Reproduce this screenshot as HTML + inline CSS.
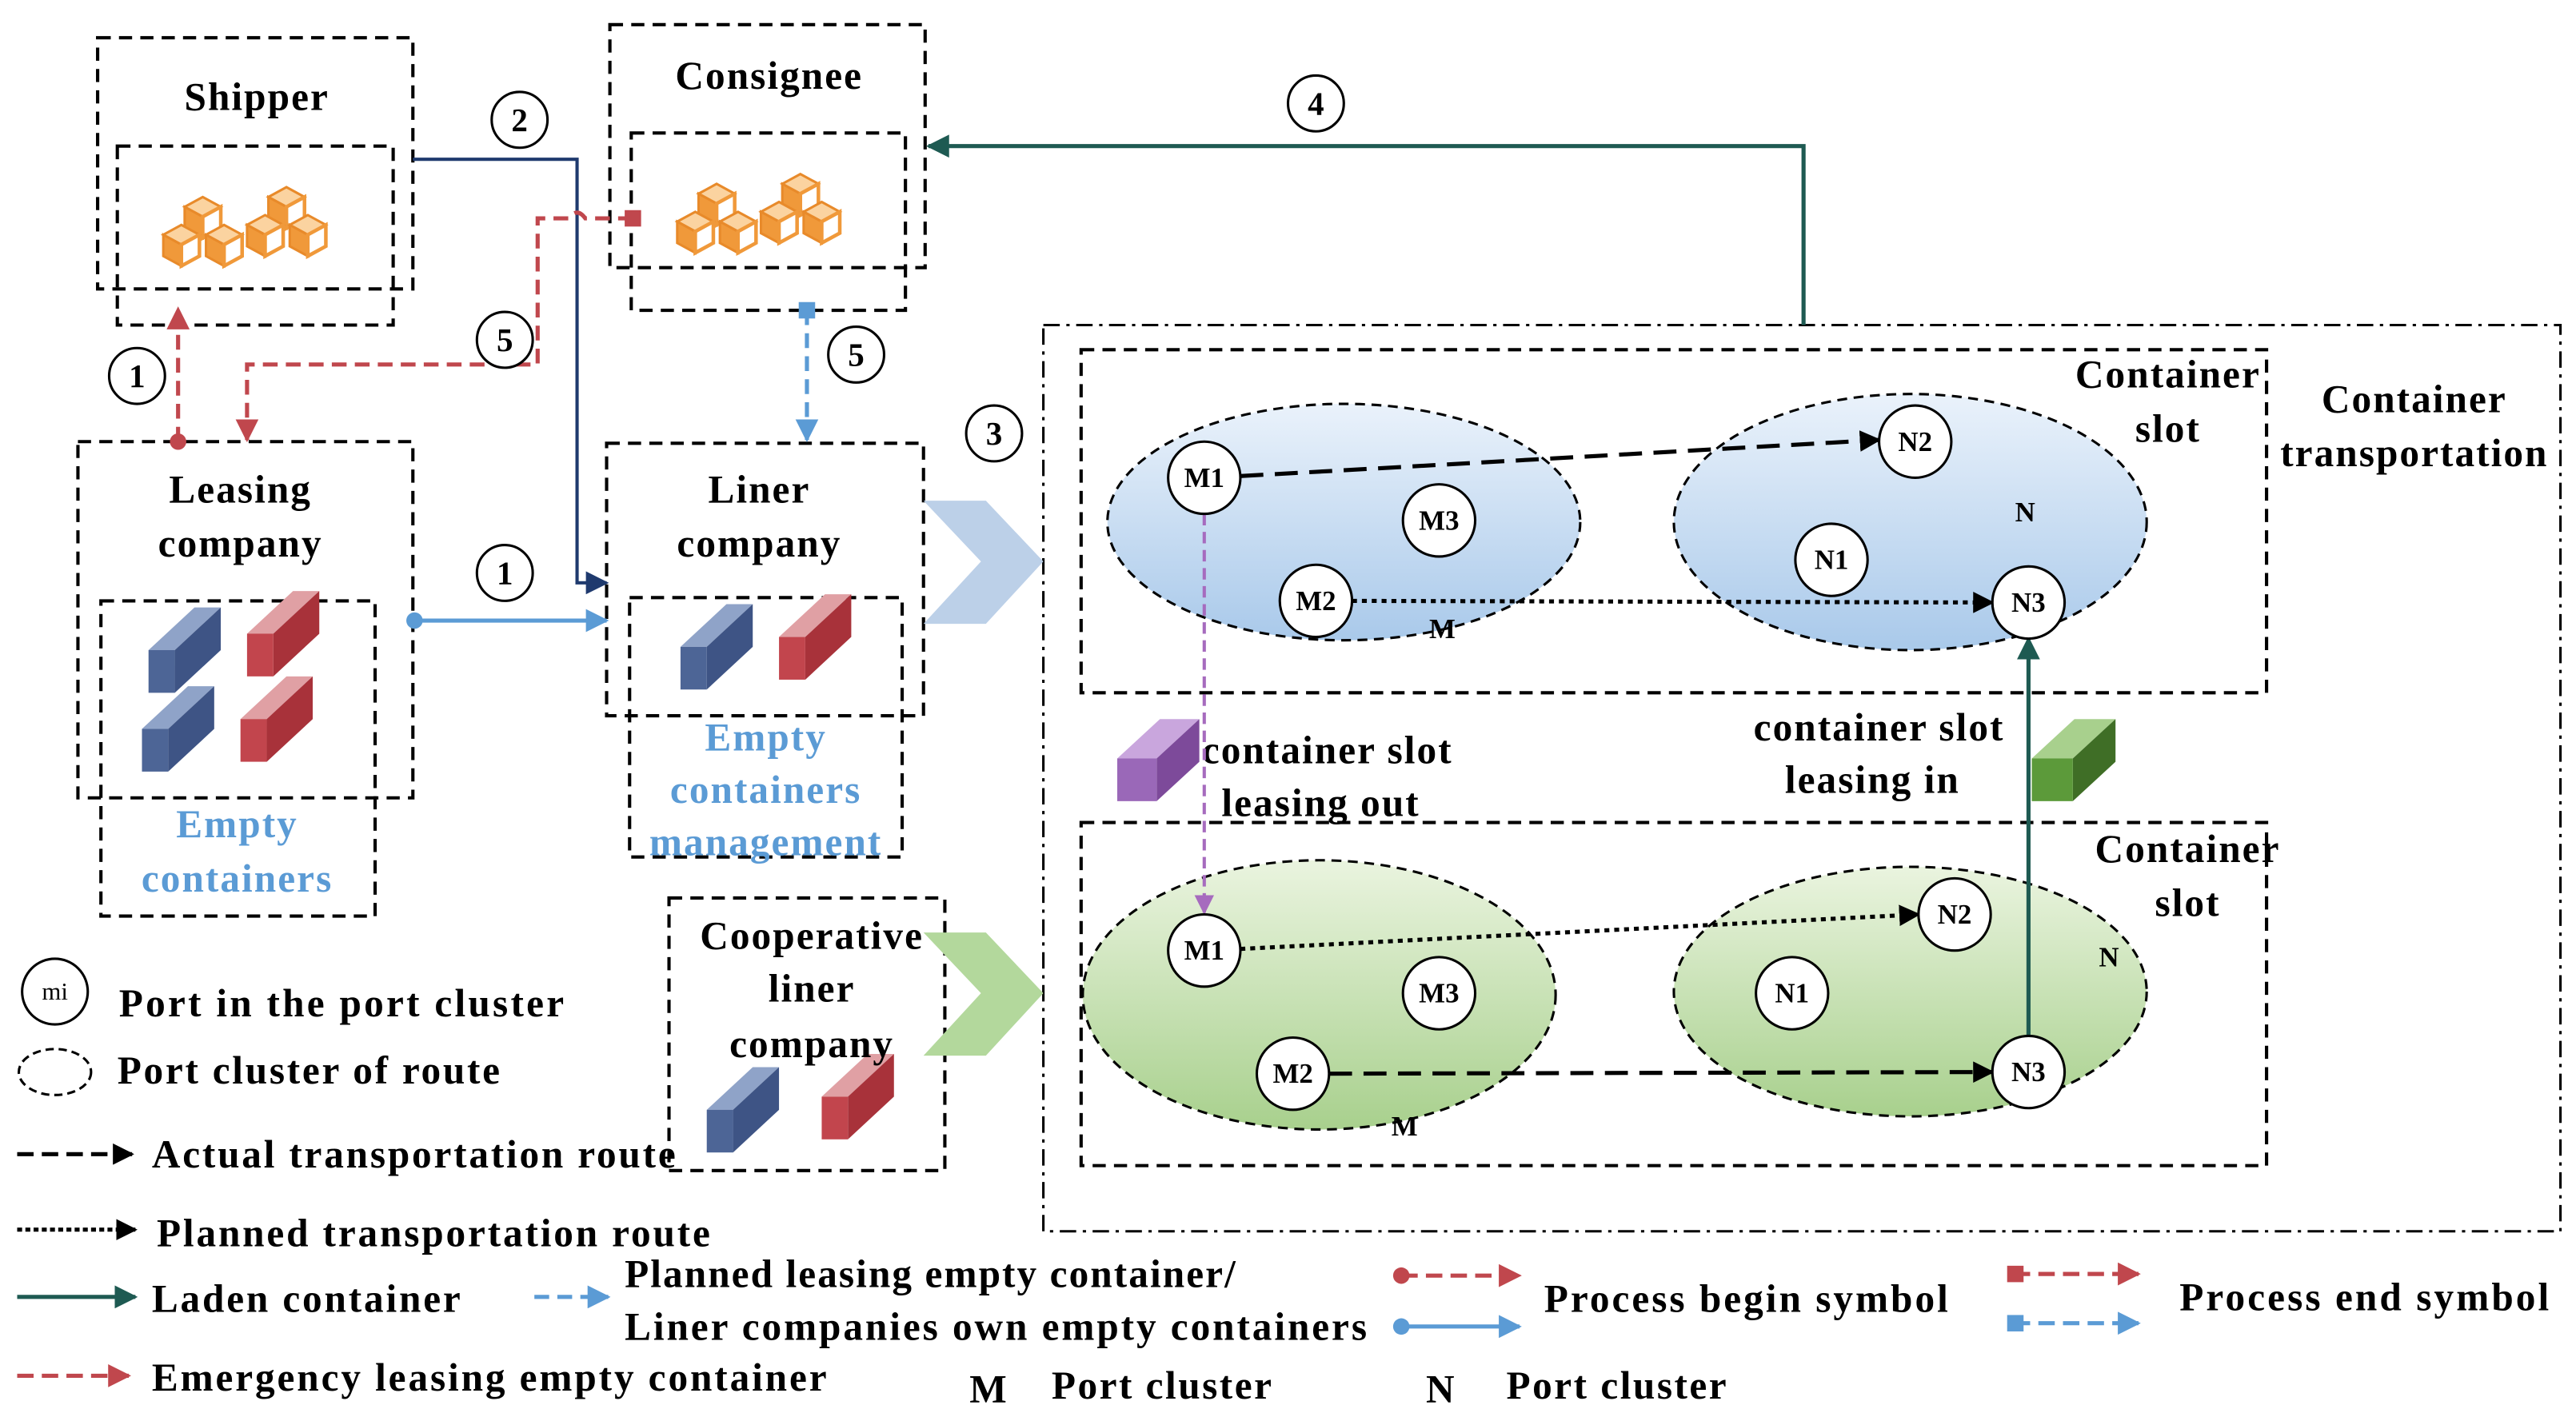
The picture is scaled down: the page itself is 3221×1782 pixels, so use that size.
<!DOCTYPE html>
<html><head><meta charset="utf-8"><style>html,body{margin:0;padding:0;background:#fff}svg{display:block}</style></head>
<body>
<svg width="3221" height="1782" viewBox="0 0 1568 868" xmlns="http://www.w3.org/2000/svg">
<defs>
<marker id="aN" viewBox="0 0 10 10" markerWidth="14" markerHeight="14" refX="9" refY="5" orient="auto" markerUnits="userSpaceOnUse"><path d="M0,0 L10,5 L0,10Z" fill="#1f3a6e"/></marker>
<marker id="aT" viewBox="0 0 10 10" markerWidth="14" markerHeight="14" refX="9" refY="5" orient="auto" markerUnits="userSpaceOnUse"><path d="M0,0 L10,5 L0,10Z" fill="#1e5a52"/></marker>
<marker id="aR" viewBox="0 0 10 10" markerWidth="14" markerHeight="14" refX="9" refY="5" orient="auto" markerUnits="userSpaceOnUse"><path d="M0,0 L10,5 L0,10Z" fill="#c0474d"/></marker>
<marker id="aB" viewBox="0 0 10 10" markerWidth="14" markerHeight="14" refX="9" refY="5" orient="auto" markerUnits="userSpaceOnUse"><path d="M0,0 L10,5 L0,10Z" fill="#5b9bd5"/></marker>
<marker id="aP" viewBox="0 0 10 10" markerWidth="12" markerHeight="12" refX="9" refY="5" orient="auto" markerUnits="userSpaceOnUse"><path d="M0,0 L10,5 L0,10Z" fill="#a66bbe"/></marker>
<marker id="aBk" viewBox="0 0 10 10" markerWidth="13" markerHeight="13" refX="9" refY="5" orient="auto" markerUnits="userSpaceOnUse"><path d="M0,0 L10,5 L0,10Z" fill="#000"/></marker>
<linearGradient id="gb" x1="0" y1="0" x2="0" y2="1"><stop offset="0" stop-color="#eaf2fb"/><stop offset="1" stop-color="#a9c9ea"/></linearGradient>
<linearGradient id="gg" x1="0" y1="0" x2="0" y2="1"><stop offset="0" stop-color="#eaf4df"/><stop offset="1" stop-color="#a8d08d"/></linearGradient>
<g id="cube"><path d="M0,-8 L11,-14 L22,-8 L11,-2Z" fill="#fbd3a0" stroke="#e88a2a" stroke-width="1.5"/><path d="M0,-8 L11,-2 L11,11 L0,5Z" fill="#f0993a" stroke="#e88a2a" stroke-width="1.5"/><path d="M11,-2 L22,-8 L22,5 L11,11Z" fill="#fff" stroke="#f0993a" stroke-width="2.2"/></g>
<g id="cubes"><use href="#cube" x="13" y="-2"/><use href="#cube" x="0" y="15"/><use href="#cube" x="26" y="15"/><use href="#cube" x="64" y="-8"/><use href="#cube" x="51" y="9"/><use href="#cube" x="77" y="9"/></g>
<g id="cb"><path d="M0,14 L28,-12 L44,-12 L16,14Z" fill="#8fa3c8"/><path d="M16,14 L44,-12 L44,14 L16,40Z" fill="#3e5485"/><rect x="0" y="14" width="16" height="26" fill="#4d6596"/></g>
<g id="cr"><path d="M0,14 L28,-12 L44,-12 L16,14Z" fill="#e0a0a4"/><path d="M16,14 L44,-12 L44,14 L16,40Z" fill="#a8323a"/><rect x="0" y="14" width="16" height="26" fill="#c2454d"/></g>
</defs>
<g font-family="Liberation Serif, serif" font-weight="bold" font-size="24" letter-spacing="1" text-anchor="middle" dominant-baseline="central">
<g fill="none" stroke="#000" stroke-width="2" stroke-dasharray="8,5">
<rect x="59" y="23" width="192" height="153"/><rect x="71" y="89" width="168" height="109"/>
<rect x="371" y="15" width="192" height="148"/><rect x="384" y="81" width="167" height="108"/>
<rect x="47" y="269" width="204" height="217"/><rect x="61" y="366" width="167" height="192"/>
<rect x="369" y="270" width="193" height="166"/><rect x="383" y="364" width="166" height="158"/>
<rect x="407" y="547" width="168" height="166"/>
<rect x="658" y="213" width="722" height="209"/><rect x="658" y="501" width="722" height="209"/>
</g>
<rect x="635" y="198" width="924" height="552" fill="none" stroke="#000" stroke-width="1.5" stroke-dasharray="10,4,2,4"/>
<g stroke="#000" stroke-width="1.5" stroke-dasharray="6,4">
<ellipse cx="818" cy="318" rx="144" ry="72" fill="url(#gb)"/><ellipse cx="1163" cy="318" rx="144" ry="78" fill="url(#gb)"/>
<ellipse cx="803" cy="606" rx="144" ry="82" fill="url(#gg)"/><ellipse cx="1163" cy="604" rx="144" ry="76" fill="url(#gg)"/>
</g>
<use href="#cubes" x="99" y="136"/><use href="#cubes" x="412" y="128"/>
<use href="#cb" x="90" y="382"/><use href="#cr" x="150" y="372"/><use href="#cb" x="86" y="430"/><use href="#cr" x="146" y="424"/>
<use href="#cb" x="414" y="380"/><use href="#cr" x="474" y="374"/>
<use href="#cb" x="430" y="662"/><use href="#cr" x="500" y="654"/>
<path d="M680,462 L706,438 L730,438 L704,462Z" fill="#c9a6dd"/><path d="M704,462 L730,438 L730,464 L704,488Z" fill="#7d4a9a"/><rect x="680" y="462" width="24" height="26" fill="#9a68b8"/>
<path d="M1237,462 L1263,438 L1288,438 L1262,462Z" fill="#a8d08d"/><path d="M1262,462 L1288,438 L1288,464 L1262,488Z" fill="#3f6e26"/><rect x="1237" y="462" width="25" height="26" fill="#5c9a3a"/>
<path d="M562,305 L600,305 L635,342 L600,380 L562,380 L597,342Z" fill="#bcd0e8"/>
<path d="M562,568 L600,568 L635,605 L600,643 L562,643 L597,605Z" fill="#b3d89c"/>
<text x="156" y="59">Shipper</text><text x="468" y="46">Consignee</text>
<text x="146" y="298">Leasing</text><text x="146" y="331">company</text>
<text x="144" y="502" fill="#5b9bd5">Empty</text><text x="144" y="535" fill="#5b9bd5">containers</text>
<text x="462" y="298">Liner</text><text x="462" y="331">company</text>
<text x="466" y="449" fill="#5b9bd5">Empty</text><text x="466" y="481" fill="#5b9bd5">containers</text><text x="466" y="513" fill="#5b9bd5">management</text>
<text x="494" y="570">Cooperative</text><text x="494" y="602">liner</text><text x="494" y="636">company</text>
<text x="1320" y="228">Container</text><text x="1320" y="261">slot</text>
<text x="1332" y="517">Container</text><text x="1332" y="550">slot</text>
<text x="1470" y="243">Container</text><text x="1470" y="276">transportation</text>
<text x="808" y="457">container slot</text><text x="804" y="489">leasing out</text>
<text x="1144" y="443">container slot</text><text x="1140" y="475">leasing in</text>
<g font-size="17" letter-spacing="0"><text x="878" y="383">M</text><text x="1233" y="312">N</text><text x="855" y="686">M</text><text x="1284" y="583">N</text></g>
<path d="M251,97 H351 V355 H369" fill="none" stroke="#1f3a6e" stroke-width="2" marker-end="url(#aN)"/>
<path d="M1098,198 V89 H565" fill="none" stroke="#1e5a52" stroke-width="2.5" marker-end="url(#aT)"/>
<path d="M108,269 V188" fill="none" stroke="#c0474d" stroke-width="2.5" stroke-dasharray="9,5" marker-end="url(#aR)"/><circle cx="108" cy="269" r="5" fill="#c0474d"/>
<path d="M385,133 H356 Q351,126 346,133 H327 V222 H150 V268" fill="none" stroke="#c0474d" stroke-width="2.5" stroke-dasharray="9,5" marker-end="url(#aR)"/><rect x="380" y="128" width="10" height="10" fill="#c0474d"/>
<path d="M491,189 V268" fill="none" stroke="#5b9bd5" stroke-width="2.5" stroke-dasharray="9,5" marker-end="url(#aB)"/><rect x="486" y="184" width="10" height="10" fill="#5b9bd5"/>
<path d="M252,378 H369" fill="none" stroke="#5b9bd5" stroke-width="2.5" marker-end="url(#aB)"/><circle cx="252" cy="378" r="5" fill="#5b9bd5"/>
<path d="M733,313 V556" fill="none" stroke="#a66bbe" stroke-width="2" stroke-dasharray="7,4" marker-end="url(#aP)"/>
<path d="M1235,631 V389" fill="none" stroke="#1e5a52" stroke-width="2.5" marker-end="url(#aT)"/>
<g fill="none" stroke="#000" stroke-width="2.5">
<path d="M755,290 L1144,268" stroke-dasharray="14,7" marker-end="url(#aBk)"/>
<path d="M823,366 L1213,367" stroke-dasharray="3,3" marker-end="url(#aBk)"/>
<path d="M755,578 L1168,557" stroke-dasharray="3,3" marker-end="url(#aBk)"/>
<path d="M809,654 L1213,653" stroke-dasharray="14,7" marker-end="url(#aBk)"/>
</g>
<g fill="#fff" stroke="#000" stroke-width="1.5">
<circle cx="733" cy="291" r="22"/><circle cx="876" cy="317" r="22"/><circle cx="801" cy="366" r="22"/>
<circle cx="1166" cy="269" r="22"/><circle cx="1115" cy="341" r="22"/><circle cx="1235" cy="367" r="22"/>
<circle cx="733" cy="579" r="22"/><circle cx="876" cy="605" r="22"/><circle cx="787" cy="654" r="22"/>
<circle cx="1190" cy="557" r="22"/><circle cx="1091" cy="605" r="22"/><circle cx="1235" cy="653" r="22"/>
<circle cx="316" cy="73" r="17"/><circle cx="801" cy="63" r="17"/><circle cx="83" cy="229" r="17"/><circle cx="307" cy="207" r="17"/><circle cx="521" cy="216" r="17"/><circle cx="605" cy="264" r="17"/><circle cx="307" cy="349" r="17"/>
<circle cx="33" cy="604" r="20"/>
</g>
<g font-size="17" letter-spacing="0">
<text x="733" y="291">M1</text><text x="876" y="317">M3</text><text x="801" y="366">M2</text>
<text x="1166" y="269">N2</text><text x="1115" y="341">N1</text><text x="1235" y="367">N3</text>
<text x="733" y="579">M1</text><text x="876" y="605">M3</text><text x="787" y="654">M2</text>
<text x="1190" y="557">N2</text><text x="1091" y="605">N1</text><text x="1235" y="653">N3</text>
<text x="316" y="73" font-size="20">2</text><text x="801" y="63" font-size="20">4</text><text x="83" y="229" font-size="20">1</text><text x="307" y="207" font-size="20">5</text><text x="521" y="216" font-size="20">5</text><text x="605" y="264" font-size="20">3</text><text x="307" y="349" font-size="20">1</text>
<text x="33" y="604" font-size="15" font-weight="normal">mi</text>
</g>
<ellipse cx="33" cy="653" rx="22" ry="14" fill="none" stroke="#000" stroke-width="1.5" stroke-dasharray="5,3"/>
<g fill="none" stroke-width="2.5">
<path d="M10,703 H80" stroke="#000" stroke-dasharray="10,5" marker-end="url(#aBk)"/>
<path d="M10,749 H82" stroke="#000" stroke-dasharray="3,2" marker-end="url(#aBk)"/>
<path d="M10,790 H82" stroke="#1e5a52" marker-end="url(#aT)"/>
<path d="M325,790 H370" stroke="#5b9bd5" stroke-dasharray="9,5" marker-end="url(#aB)"/>
<path d="M10,838 H78" stroke="#c0474d" stroke-dasharray="10,5" marker-end="url(#aR)"/>
<path d="M853,777 H925" stroke="#c0474d" stroke-dasharray="10,5" marker-end="url(#aR)"/>
<path d="M853,808 H925" stroke="#5b9bd5" marker-end="url(#aB)"/>
<path d="M1226,776 H1302" stroke="#c0474d" stroke-dasharray="10,5" marker-end="url(#aR)"/>
<path d="M1226,806 H1302" stroke="#5b9bd5" stroke-dasharray="10,5" marker-end="url(#aB)"/>
</g>
<circle cx="853" cy="777" r="5" fill="#c0474d"/><circle cx="853" cy="808" r="5" fill="#5b9bd5"/>
<rect x="1222" y="771" width="10" height="10" fill="#c0474d"/><rect x="1222" y="801" width="10" height="10" fill="#5b9bd5"/>
<g text-anchor="start">
<text x="72" y="611" textLength="272" lengthAdjust="spacing">Port  in the port cluster</text>
<text x="71" y="652" textLength="234" lengthAdjust="spacing">Port cluster of route</text>
<text x="92" y="703" textLength="320" lengthAdjust="spacing">Actual transportation route</text>
<text x="95" y="751" textLength="338" lengthAdjust="spacing">Planned transportation route</text>
<text x="92" y="791" textLength="189" lengthAdjust="spacing">Laden container</text>
<text x="380" y="776" textLength="373" lengthAdjust="spacing">Planned leasing empty container/</text>
<text x="380" y="808" textLength="453" lengthAdjust="spacing">Liner companies own empty containers</text>
<text x="92" y="839" textLength="412" lengthAdjust="spacing">Emergency leasing empty container</text>
<text x="590" y="846">M</text><text x="640" y="844" textLength="135" lengthAdjust="spacing">Port cluster</text>
<text x="868" y="846">N</text><text x="917" y="844" textLength="135" lengthAdjust="spacing">Port cluster</text>
<text x="940" y="791" textLength="247" lengthAdjust="spacing">Process begin symbol</text>
<text x="1327" y="790" textLength="226" lengthAdjust="spacing">Process end symbol</text>
</g>
</g>
</svg>
</body></html>
